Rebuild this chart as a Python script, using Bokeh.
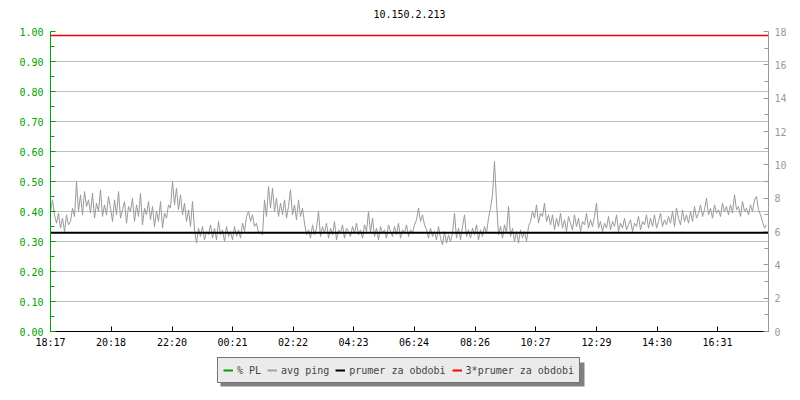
from bokeh.plotting import figure
from bokeh.layouts import column
from bokeh.models import (Range1d, LinearAxis, FixedTicker, Legend, LegendItem,
                          BoxAnnotation, PrintfTickFormatter)
from bokeh.core.properties import value
from bokeh.embed import file_html
from bokeh.resources import INLINE

title_text = "10.150.2.213"
tick_labels = ["18:17", "20:18", "22:20", "00:21", "02:22", "04:23",
               "06:24", "08:26", "10:27", "12:29", "14:30", "16:31"]
tick_minutes = [0, 121, 243, 364, 485, 606, 727, 849, 970, 1092, 1213, 1334]
span_minutes = 1436
sample_step = 4  # minutes between samples

avg_ping = [
    7.2, 7.9, 7.0, 6.5, 7.1, 6.2, 6.8, 6.0, 7.0, 6.4,
    6.6, 7.4, 6.9, 9.0, 7.2, 8.2, 7.0, 8.4, 7.5, 7.9,
    7.1, 8.3, 6.8, 7.7, 7.2, 8.5, 6.9, 7.6, 7.0, 8.1,
    7.4, 6.6, 7.9, 7.0, 8.4, 6.8, 7.3, 7.8, 6.5, 7.5,
    7.2, 8.0, 6.6, 7.6, 6.9, 8.3, 6.4, 7.4, 7.0, 7.8,
    6.7, 7.5, 6.3, 7.2, 6.6, 7.8, 6.2, 7.1, 6.8, 7.6,
    7.4, 9.0, 7.6, 8.6, 7.3, 8.2, 7.0, 7.7, 6.6, 7.3,
    6.3, 7.8, 6.1, 5.3, 6.2, 5.7, 6.3, 5.5, 6.0, 5.8,
    6.4, 5.6, 6.2, 5.5, 6.6, 5.8, 6.1, 5.4, 6.3, 5.7,
    6.0, 5.5, 6.3, 5.7, 6.1, 5.6, 6.5, 6.0, 6.9, 7.2,
    6.6, 7.0, 6.3, 6.5, 5.9, 6.0, 5.8, 7.9, 6.9, 8.7,
    7.4, 8.6, 7.2, 8.0, 6.9, 7.7, 7.0, 7.9, 6.8, 7.5,
    8.5, 7.0, 7.6, 6.7, 7.9, 6.9, 7.4, 6.5, 5.8, 6.1,
    5.6, 6.4, 5.8, 6.2, 7.2, 5.7, 6.3, 5.9, 6.5, 5.6,
    6.2, 5.8, 6.6, 5.5, 6.1, 5.9, 6.4, 5.6, 6.2, 6.0,
    5.7, 6.3, 5.9, 6.5, 5.8, 6.1, 5.6, 6.4, 6.0, 7.2,
    5.9, 6.8, 5.7, 6.2, 5.5, 6.3, 5.9, 6.1, 5.6, 6.4,
    6.0, 5.7, 6.3, 5.8, 6.5, 5.6, 6.1, 5.9, 6.4, 5.7,
    6.1, 5.9, 6.4, 6.7, 7.4, 6.6, 7.0, 6.4, 6.1, 5.6,
    6.2, 5.7, 6.0, 5.5, 6.3, 5.6, 5.2, 6.0, 5.3, 5.8,
    5.4, 5.9, 7.1, 5.6, 6.2, 5.5, 6.3, 7.0, 5.7, 6.1,
    5.6, 6.2, 5.8, 6.4, 5.5, 6.1, 5.7, 6.3, 5.9, 6.8,
    7.4, 8.2, 10.2, 7.8, 5.8, 6.3, 5.6, 6.4, 5.9, 7.5,
    5.7, 6.2, 5.4, 6.0, 5.3, 6.1, 5.6, 6.0, 5.4, 6.3,
    6.6, 7.2, 6.8, 7.6, 6.5, 7.1, 6.9, 7.7, 6.6, 7.0,
    6.4, 7.0, 6.1, 6.8, 6.3, 7.1, 6.2, 6.7, 6.0, 6.9,
    6.5, 6.1, 7.0, 6.3, 6.8, 6.0, 6.6, 6.4, 7.1, 6.2,
    6.7, 6.3, 6.9, 7.7, 6.2, 6.6, 6.0, 6.5, 6.2, 6.9,
    6.1, 6.6, 6.3, 7.0, 6.0, 6.5, 6.2, 6.8, 6.1, 6.4,
    6.7, 6.0, 6.5, 6.3, 6.9, 6.1, 6.6, 6.4, 7.0, 6.2,
    6.8, 6.3, 7.0, 6.2, 6.6, 7.1, 6.3, 6.7, 6.4, 6.9,
    6.5, 7.2, 6.3, 7.4, 6.8, 6.4, 7.3, 6.6, 7.0, 6.5,
    7.2, 6.6, 7.5, 6.8, 7.1, 7.6, 6.9, 7.3, 8.0, 7.0,
    7.4, 6.8, 7.6, 7.1, 7.3, 6.9, 7.7, 7.2, 7.5, 7.0,
    7.6, 7.1, 8.2, 7.3, 7.5, 6.9, 7.8, 7.2, 7.4, 7.0,
    7.6, 7.2, 7.9, 8.1, 7.3, 7.0, 6.6, 6.2, 6.4,
]
mean_ping = 5.92

pl_ticks = [0.0, 0.1, 0.2, 0.3, 0.4, 0.5, 0.6, 0.7, 0.8, 0.9, 1.0]
pl_minor = [0.05, 0.15, 0.25, 0.35, 0.45, 0.55, 0.65, 0.75, 0.85, 0.95]
ping_ticks = [0, 2, 4, 6, 8, 10, 12, 14, 16, 18]
ping_minor = [1, 3, 5, 7, 9, 11, 13, 15, 17]

legend_labels = ["% PL", "avg ping", "prumer za obdobi", "3*prumer za obdobi"]
legend_colors = ["#00a000", "#a0a0a0", "#000000", "#ff0000"]

FONT = "DejaVu Sans Mono"
GREEN = "#00a000"
GREY = "#999999"

times = [i * sample_step for i in range(len(avg_ping))]

# ---- title strip (frame aligned with main frame: page x 50..768, y 0..23) ----
tf = figure(width=800, height=23, output_backend="svg", toolbar_location=None,
            x_range=Range1d(50, 768), y_range=Range1d(23, 0),
            x_axis_type=None, y_axis_type=None,
            min_border_left=50, min_border_right=32, min_border_top=0,
            min_border_bottom=0)
tf.outline_line_color = None
tf.xgrid.visible = False
tf.ygrid.visible = False
tf.text(x=[409], y=[13], text=[title_text], text_font=value(FONT),
        text_font_size="10px", text_align="center", text_baseline="middle",
        text_color="#000000")

# ---- main chart ----
p = figure(width=800, height=329, output_backend="svg", toolbar_location=None,
           x_range=Range1d(0, span_minutes), y_range=Range1d(0, 1),
           min_border_left=50, min_border_right=32, min_border_top=8,
           min_border_bottom=21)
p.outline_line_color = None

p.extra_y_ranges = {"ping": Range1d(0, 18)}

p.xgrid.visible = False
p.ygrid.ticker = FixedTicker(ticks=pl_ticks)
p.ygrid.grid_line_color = "#c0c0c0"
p.ygrid.grid_line_width = 1

# left axis
ya = p.yaxis[0]
ya.ticker = FixedTicker(ticks=pl_ticks, minor_ticks=pl_minor)
ya.formatter = PrintfTickFormatter(format="%.2f")
ya.axis_line_color = GREEN
ya.major_tick_line_color = GREEN
ya.minor_tick_line_color = GREEN
ya.major_label_text_color = GREEN
ya.major_tick_in = 5
ya.major_tick_out = 0
ya.minor_tick_in = 4
ya.minor_tick_out = 0
ya.major_label_standoff = 7
ya.major_label_text_font = FONT
ya.major_label_text_font_size = "10px"

# right axis
ra = LinearAxis(y_range_name="ping",
                ticker=FixedTicker(ticks=ping_ticks, minor_ticks=ping_minor))
ra.axis_line_color = GREY
ra.major_tick_line_color = GREY
ra.minor_tick_line_color = GREY
ra.major_label_text_color = GREY
ra.major_tick_in = 5
ra.major_tick_out = 0
ra.minor_tick_in = 4
ra.minor_tick_out = 0
ra.major_label_standoff = 6
ra.major_label_text_font = FONT
ra.major_label_text_font_size = "10px"
p.add_layout(ra, "right")

# bottom axis
xa = p.xaxis[0]
xa.ticker = FixedTicker(ticks=tick_minutes)
xa.major_label_overrides = {t: l for t, l in zip(tick_minutes, tick_labels)}
xa.axis_line_color = "#000000"
xa.major_tick_line_color = "#000000"
xa.minor_tick_line_color = None
xa.major_tick_in = 5
xa.major_tick_out = 0
xa.major_label_standoff = 5
xa.major_label_text_font = FONT
xa.major_label_text_font_size = "10px"
xa.major_label_text_color = "#000000"

# data
p.line(times, avg_ping, y_range_name="ping", line_color="#999999", line_width=1)
p.line([0, span_minutes], [mean_ping, mean_ping], y_range_name="ping",
       line_color="#000000", line_width=2)
p.line([0, span_minutes], [3 * mean_ping, 3 * mean_ping], y_range_name="ping",
       line_color="#ee0000", line_width=1.5)

# ---- legend strip (frame aligned with main frame: page x 50..768) ----
lf = figure(width=800, height=48, output_backend="svg", toolbar_location=None,
            x_range=Range1d(50, 768), y_range=Range1d(48, 0),
            x_axis_type=None, y_axis_type=None,
            min_border_left=50, min_border_right=32, min_border_top=0,
            min_border_bottom=0)
lf.outline_line_color = None
lf.xgrid.visible = False
lf.ygrid.visible = False

items = []
for lab, col in zip(legend_labels, legend_colors):
    r = lf.line(x=[float("nan")], y=[float("nan")], line_color=col, line_width=2)
    items.append(LegendItem(label=lab, renderers=[r]))

shadow = BoxAnnotation(left=220, right=584, top=10, bottom=34,
                       fill_color="#808080", fill_alpha=1.0, line_color=None)
lf.add_layout(shadow)

leg = Legend(items=items, orientation="horizontal", location=(167, 17))
leg.background_fill_color = "#ebebeb"
leg.background_fill_alpha = 1.0
leg.border_line_color = "#000000"
leg.border_line_width = 1
leg.label_text_font = FONT
leg.label_text_font_size = "10px"
leg.glyph_width = 10
leg.glyph_height = 14
leg.label_height = 14
leg.label_standoff = 4
leg.spacing = 6
leg.padding = 5
leg.margin = 0
lf.add_layout(leg, "center")

layout = column(tf, p, lf, spacing=0)
open("out.html", "w").write(file_html(layout, INLINE))
